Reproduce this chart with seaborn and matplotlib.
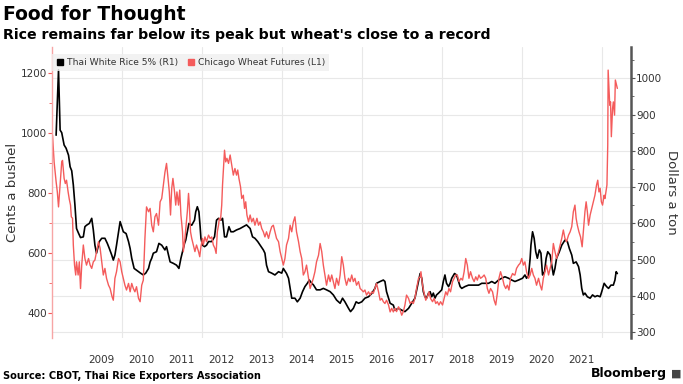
import matplotlib

matplotlib.use("Agg")
import matplotlib.pyplot as plt
import numpy as np
import pandas as pd
import seaborn as sns
from matplotlib.lines import Line2D
from matplotlib.ticker import MultipleLocator, FixedLocator

# Thai White Rice 5% (R1), dollars a ton -- decimal year, value
rice_years = [
    2008.36, 2008.42, 2008.46, 2008.50, 2008.56, 2008.61, 2008.67, 2008.71, 2008.75, 2008.79,
    2008.83, 2008.87, 2008.92, 2008.97, 2009.04, 2009.08, 2009.12, 2009.19, 2009.25, 2009.29,
    2009.33, 2009.37, 2009.44, 2009.50, 2009.58, 2009.64, 2009.69, 2009.75, 2009.79, 2009.83,
    2009.87, 2009.96, 2010.00, 2010.04, 2010.11, 2010.17, 2010.21, 2010.25, 2010.31, 2010.36,
    2010.42, 2010.47, 2010.54, 2010.60, 2010.67, 2010.71, 2010.75, 2010.79, 2010.87, 2010.93,
    2011.00, 2011.08, 2011.12, 2011.17, 2011.21, 2011.29, 2011.37, 2011.43, 2011.48, 2011.52,
    2011.57, 2011.60, 2011.64, 2011.68, 2011.75, 2011.82, 2011.85, 2011.89, 2011.93, 2011.96,
    2011.98, 2012.02, 2012.07, 2012.12, 2012.17, 2012.25, 2012.32, 2012.37, 2012.42, 2012.48,
    2012.52, 2012.57, 2012.62, 2012.68, 2012.73, 2012.79, 2012.87, 2012.96, 2013.04, 2013.12,
    2013.21, 2013.27, 2013.33, 2013.40, 2013.46, 2013.54, 2013.58, 2013.62, 2013.67, 2013.75,
    2013.83, 2013.92, 2014.00, 2014.04, 2014.12, 2014.17, 2014.21, 2014.25, 2014.33, 2014.39,
    2014.46, 2014.52, 2014.58, 2014.64, 2014.69, 2014.75, 2014.79, 2014.87, 2014.96, 2015.04,
    2015.12, 2015.21, 2015.29, 2015.37, 2015.46, 2015.52, 2015.58, 2015.67, 2015.72, 2015.79,
    2015.86, 2015.92, 2016.00, 2016.08, 2016.17, 2016.25, 2016.33, 2016.37, 2016.46, 2016.54,
    2016.58, 2016.62, 2016.67, 2016.71, 2016.79, 2016.83, 2016.92, 2017.00, 2017.08, 2017.17,
    2017.25, 2017.33, 2017.40, 2017.46, 2017.50, 2017.54, 2017.58, 2017.62, 2017.67, 2017.71,
    2017.75, 2017.79, 2017.83, 2017.87, 2017.92, 2018.00, 2018.04, 2018.08, 2018.12, 2018.17,
    2018.21, 2018.25, 2018.32, 2018.37, 2018.42, 2018.46, 2018.50, 2018.58, 2018.67, 2018.79,
    2018.92, 2019.00, 2019.08, 2019.17, 2019.25, 2019.33, 2019.42, 2019.50, 2019.58, 2019.67,
    2019.75, 2019.83, 2019.92, 2020.02, 2020.08, 2020.12, 2020.17, 2020.21, 2020.23, 2020.27,
    2020.31, 2020.35, 2020.39, 2020.44, 2020.48, 2020.52, 2020.57, 2020.61, 2020.65, 2020.71,
    2020.75, 2020.79, 2020.83, 2020.87, 2020.94, 2021.00, 2021.08, 2021.14, 2021.19, 2021.25,
    2021.29, 2021.36, 2021.42, 2021.46, 2021.50, 2021.54, 2021.58, 2021.64, 2021.71, 2021.77,
    2021.83, 2021.89, 2021.96, 2022.00, 2022.06, 2022.12, 2022.17, 2022.23, 2022.29, 2022.33,
    2022.36, 2022.39,
]
rice_usd_ton = [
    843, 1023, 857, 850, 816, 807, 788, 756, 745, 706,
    651, 586, 573, 561, 563, 591, 595, 600, 614, 582,
    540, 518, 550, 559, 559, 545, 531, 513, 499, 513,
    540, 605, 591, 577, 572, 550, 531, 504, 476, 472,
    467, 463, 458, 463, 476, 494, 504, 518, 522, 545,
    540, 527, 536, 513, 494, 490, 485, 476, 504, 522,
    545, 554, 577, 600, 595, 609, 632, 646, 632, 591,
    559, 540, 536, 540, 550, 550, 563, 609, 614, 609,
    614, 563, 563, 591, 577, 577, 582, 586, 591, 596,
    586, 563, 559, 550, 540, 527, 518, 485, 467, 463,
    458, 467, 463, 476, 462, 449, 421, 394, 394, 384,
    394, 412, 426, 435, 444, 435, 431, 417, 417, 421,
    417, 412, 403, 389, 380, 394, 384, 366, 357, 366,
    384, 380, 384, 394, 398, 407, 421, 435, 440, 444,
    440, 412, 394, 380, 375, 361, 366, 361, 357, 366,
    380, 394, 430, 462, 449, 412, 398, 394, 408, 412,
    398, 408, 394, 403, 408, 417, 440, 458, 435, 426,
    435, 449, 462, 458, 440, 426, 421, 426, 430, 430,
    430, 435, 435, 435, 440, 435, 444, 449, 453, 449,
    444, 440, 444, 449, 458, 449, 458, 504, 540, 577,
    559, 522, 504, 527, 518, 458, 467, 504, 522, 513,
    485, 458, 476, 504, 522, 540, 554, 550, 531, 513,
    490, 494, 481, 458, 421, 403, 408, 398, 394, 403,
    398, 401, 398, 412, 435, 426, 421, 430, 430, 444,
    467, 462,
]

# Chicago Wheat Futures (L1), cents a bushel -- decimal year, value
wheat_years = [
    2008.27, 2008.31, 2008.36, 2008.39, 2008.42, 2008.46, 2008.50, 2008.52, 2008.56, 2008.59,
    2008.62, 2008.66, 2008.69, 2008.72, 2008.74, 2008.77, 2008.79, 2008.82, 2008.85, 2008.87,
    2008.91, 2008.94, 2008.97, 2009.00, 2009.04, 2009.08, 2009.12, 2009.17, 2009.21, 2009.25,
    2009.29, 2009.33, 2009.37, 2009.42, 2009.46, 2009.50, 2009.54, 2009.58, 2009.62, 2009.67,
    2009.71, 2009.76, 2009.79, 2009.83, 2009.87, 2009.92, 2009.96, 2010.00, 2010.04, 2010.08,
    2010.12, 2010.17, 2010.21, 2010.25, 2010.29, 2010.33, 2010.37, 2010.42, 2010.46, 2010.50,
    2010.54, 2010.58, 2010.62, 2010.67, 2010.71, 2010.75, 2010.79, 2010.83, 2010.87, 2010.92,
    2010.96, 2011.00, 2011.04, 2011.08, 2011.12, 2011.15, 2011.19, 2011.22, 2011.25, 2011.28,
    2011.32, 2011.35, 2011.38, 2011.42, 2011.45, 2011.48, 2011.52, 2011.54, 2011.58, 2011.61,
    2011.64, 2011.67, 2011.69, 2011.72, 2011.75, 2011.79, 2011.83, 2011.87, 2011.92, 2011.95,
    2011.98, 2012.02, 2012.04, 2012.08, 2012.12, 2012.17, 2012.21, 2012.25, 2012.29, 2012.33,
    2012.36, 2012.39, 2012.42, 2012.44, 2012.47, 2012.50, 2012.52, 2012.55, 2012.57, 2012.60,
    2012.63, 2012.67, 2012.71, 2012.75, 2012.79, 2012.83, 2012.87, 2012.90, 2012.93, 2012.97,
    2013.00, 2013.04, 2013.07, 2013.10, 2013.13, 2013.17, 2013.21, 2013.25, 2013.29, 2013.33,
    2013.38, 2013.42, 2013.46, 2013.50, 2013.54, 2013.58, 2013.62, 2013.67, 2013.71, 2013.75,
    2013.79, 2013.83, 2013.87, 2013.92, 2013.96, 2014.00, 2014.04, 2014.08, 2014.12, 2014.17,
    2014.21, 2014.25, 2014.29, 2014.33, 2014.37, 2014.42, 2014.46, 2014.50, 2014.54, 2014.58,
    2014.62, 2014.67, 2014.71, 2014.75, 2014.79, 2014.83, 2014.87, 2014.92, 2014.96, 2015.00,
    2015.04, 2015.08, 2015.12, 2015.17, 2015.21, 2015.25, 2015.29, 2015.33, 2015.37, 2015.42,
    2015.46, 2015.50, 2015.54, 2015.58, 2015.62, 2015.67, 2015.71, 2015.75, 2015.79, 2015.83,
    2015.87, 2015.92, 2015.96, 2016.00, 2016.04, 2016.08, 2016.12, 2016.17, 2016.21, 2016.25,
    2016.29, 2016.33, 2016.37, 2016.42, 2016.46, 2016.50, 2016.54, 2016.58, 2016.62, 2016.67,
    2016.71, 2016.75, 2016.79, 2016.83, 2016.87, 2016.92, 2016.96, 2017.00, 2017.04, 2017.08,
    2017.12, 2017.17, 2017.21, 2017.25, 2017.29, 2017.33, 2017.37, 2017.42, 2017.46, 2017.48,
    2017.52, 2017.56, 2017.60, 2017.64, 2017.68, 2017.72, 2017.77, 2017.81, 2017.85, 2017.89,
    2017.93, 2017.97, 2018.02, 2018.06, 2018.10, 2018.14, 2018.18, 2018.22, 2018.27, 2018.31,
    2018.35, 2018.39, 2018.43, 2018.48, 2018.52, 2018.56, 2018.60, 2018.64, 2018.68, 2018.72,
    2018.77, 2018.81, 2018.85, 2018.89, 2018.93, 2018.97, 2019.02, 2019.06, 2019.10, 2019.14,
    2019.18, 2019.22, 2019.27, 2019.31, 2019.35, 2019.39, 2019.43, 2019.47, 2019.52, 2019.56,
    2019.60, 2019.64, 2019.68, 2019.72, 2019.77, 2019.81, 2019.83, 2019.87, 2019.92, 2019.96,
    2020.00, 2020.04, 2020.08, 2020.12, 2020.17, 2020.21, 2020.25, 2020.29, 2020.33, 2020.37,
    2020.42, 2020.46, 2020.50, 2020.54, 2020.58, 2020.62, 2020.67, 2020.71, 2020.75, 2020.79,
    2020.83, 2020.87, 2020.92, 2020.96, 2021.00, 2021.04, 2021.08, 2021.12, 2021.17, 2021.21,
    2021.25, 2021.29, 2021.33, 2021.36, 2021.39, 2021.43, 2021.47, 2021.51, 2021.54, 2021.58,
    2021.61, 2021.64, 2021.67, 2021.71, 2021.75, 2021.79, 2021.83, 2021.87, 2021.90, 2021.93,
    2021.96, 2021.99, 2022.02, 2022.06, 2022.08, 2022.11, 2022.13, 2022.15, 2022.16, 2022.18,
    2022.20, 2022.22, 2022.24, 2022.27, 2022.29, 2022.32, 2022.34, 2022.37, 2022.39,
]
wheat_cents_bu = [
    994, 905, 839, 805, 755, 828, 905, 910, 850, 833,
    844, 805, 780, 761, 722, 717, 628, 561, 528, 572,
    528, 572, 483, 561, 628, 583, 561, 583, 561, 550,
    572, 578, 605, 639, 617, 572, 528, 550, 517, 494,
    483, 455, 444, 517, 539, 583, 572, 539, 517, 494,
    478, 500, 472, 500, 483, 472, 489, 450, 439, 494,
    511, 650, 755, 739, 750, 694, 672, 722, 733, 694,
    772, 783, 828, 870, 900, 861, 805, 728, 817, 850,
    805, 761, 805, 761, 811, 728, 672, 606, 650, 694,
    739, 800, 761, 672, 650, 628, 606, 628, 606, 589,
    622, 650, 628, 655, 639, 661, 650, 655, 628, 617,
    600, 672, 694, 717, 711, 761, 828, 894, 944, 905,
    917, 900, 928, 894, 861, 883, 861, 878, 850, 822,
    783, 794, 750, 772, 728, 705, 728, 705, 717, 694,
    717, 694, 705, 683, 672, 655, 672, 650, 672, 689,
    694, 672, 650, 639, 606, 583, 561, 583, 628, 650,
    694, 672, 705, 722, 672, 639, 606, 583, 528, 539,
    561, 517, 483, 500, 517, 539, 572, 594, 633, 606,
    561, 528, 494, 528, 506, 528, 506, 483, 517, 494,
    528, 589, 561, 517, 494, 517, 506, 528, 506, 517,
    494, 506, 483, 478, 472, 478, 461, 472, 461, 472,
    467, 483, 500, 472, 444, 450, 439, 433, 444, 428,
    405, 417, 405, 417, 406, 422, 411, 394, 406, 428,
    461, 450, 433, 439, 433, 450, 483, 517, 522, 539,
    494, 467, 444, 455, 472, 450, 439, 450, 433, 439,
    428, 439, 428, 450, 472, 461, 483, 472, 506, 517,
    528, 528, 506, 517, 511, 539, 583, 561, 517, 539,
    517, 506, 522, 511, 528, 517, 522, 528, 517, 483,
    467, 483, 472, 444, 428, 467, 517, 539, 517, 494,
    483, 494, 478, 517, 533, 528, 528, 550, 561, 567,
    583, 561, 572, 539, 517, 528, 550, 528, 517, 494,
    517, 494, 478, 517, 539, 561, 528, 550, 572, 633,
    606, 583, 606, 628, 650, 678, 650, 639, 661, 672,
    689, 739, 761, 717, 694, 672, 655, 622, 672, 739,
    772, 739, 694, 728, 750, 772, 794, 828, 844, 805,
    817, 772, 761, 794, 783, 811, 828, 961, 1211, 1150,
    1094, 1105, 989, 1083, 1105, 1061, 1178, 1161, 1150,
]

year_labels = [str(y) for y in range(2009, 2022)]

rice = pd.DataFrame({"year": rice_years, "price": rice_usd_ton})
wheat = pd.DataFrame({"year": wheat_years, "price": wheat_cents_bu})

sns.set_style("white")
plt.rcParams["font.family"] = ["DejaVu Sans"]

RED = "#f45b5b"
TEXT = "#333333"

fig = plt.figure(figsize=(6.83, 3.84), dpi=100)
ax = fig.add_axes([0.0766, 0.119, 0.8466, 0.7586])  # rice, right axis
ax2 = ax.twinx()  # wheat, left axis

sns.lineplot(data=rice, x="year", y="price", ax=ax, color="black", linewidth=1.2)
sns.lineplot(data=wheat, x="year", y="price", ax=ax2, color=RED, linewidth=1.0)

ax.set_xlim(2008.265, 2022.72)
ax.set_ylim(283.5, 1086)
ax2.set_ylim(317, 1288)

# rice axis on the right
ax.yaxis.tick_right()
ax.yaxis.set_label_position("right")
ax.yaxis.set_major_locator(MultipleLocator(100))
ax.yaxis.set_minor_locator(MultipleLocator(50))
ax.tick_params(axis="y", which="major", length=3, width=0.8, color="#555555",
               labelsize=7.5, labelcolor=TEXT, pad=1)
ax.tick_params(axis="y", which="minor", length=2, width=0.6, color="#555555")
ax.set_ylabel("Dollars a ton", fontsize=9.5, color=TEXT, rotation=270, labelpad=11)

# wheat axis on the left
ax2.yaxis.tick_left()
ax2.yaxis.set_label_position("left")
ax2.yaxis.set_major_locator(MultipleLocator(200))
ax2.yaxis.set_minor_locator(MultipleLocator(100))
ax2.tick_params(axis="y", which="major", length=3, width=0.8, color=RED,
                labelsize=7.5, labelcolor=TEXT, pad=1)
ax2.tick_params(axis="y", which="minor", length=2, width=0.6, color=RED)
ax2.set_ylabel("Cents a bushel", fontsize=9.5, color=TEXT, labelpad=1)

# years labelled mid-year, grid every other year
ax.xaxis.set_major_locator(FixedLocator([y + 0.5 for y in range(2009, 2022)]))
ax.set_xticklabels(year_labels)
ax.xaxis.set_minor_locator(FixedLocator(list(range(2010, 2023, 2))))
ax.tick_params(axis="x", which="both", length=0, labelsize=7.5, labelcolor=TEXT, pad=12)
ax.set_xlabel("")
ax2.set_xlabel("")

ax.grid(axis="y", which="major", color="#e8e8e8", linewidth=0.8)
ax.grid(axis="x", which="minor", color="#e8e8e8", linewidth=0.8)
ax.grid(axis="x", which="major", visible=False)

for s in ["top", "bottom", "left", "right"]:
    ax.spines[s].set_visible(False)
for s in ["top", "bottom"]:
    ax2.spines[s].set_visible(False)
ax2.spines["right"].set_color("#555555")
ax2.spines["right"].set_linewidth(1.8)
ax2.spines["left"].set_color("#f7a5a5")
ax2.spines["left"].set_linewidth(1.0)

handles = [
    Line2D([], [], marker="s", linestyle="", color="black", markersize=5),
    Line2D([], [], marker="s", linestyle="", color=RED, markersize=5),
]
leg = ax2.legend(handles, ["Thai White Rice 5% (R1)", "Chicago Wheat Futures (L1)"],
                 loc="upper left", bbox_to_anchor=(0.0, 0.976), ncol=2, frameon=True,
                 fancybox=False, fontsize=6.6, handlelength=0.8, handletextpad=0.3,
                 columnspacing=1.1, borderaxespad=0, borderpad=0.45)
leg.get_frame().set_facecolor("#efefef")
leg.get_frame().set_edgecolor("none")
for t in leg.get_texts():
    t.set_color(TEXT)

fig.text(0.004, 0.962, "Food for Thought", fontsize=13.5, fontweight="bold",
         va="center", ha="left", color="black")
fig.text(0.004, 0.909, "Rice remains far below its peak but wheat's close to a record",
         fontsize=10.2, fontweight="bold", va="center", ha="left", color="black")
fig.text(0.004, 0.021, "Source: CBOT, Thai Rice Exporters Association", fontsize=7.1,
         fontweight="bold", va="center", ha="left", color="black")
fig.text(0.976, 0.028, "Bloomberg", fontsize=9, fontweight="bold", va="center",
         ha="right", color="black")
fig.text(0.982, 0.028, "\u25a0", fontsize=8, va="center", ha="left", color="#444444")

fig.savefig("out.png", dpi=100)
